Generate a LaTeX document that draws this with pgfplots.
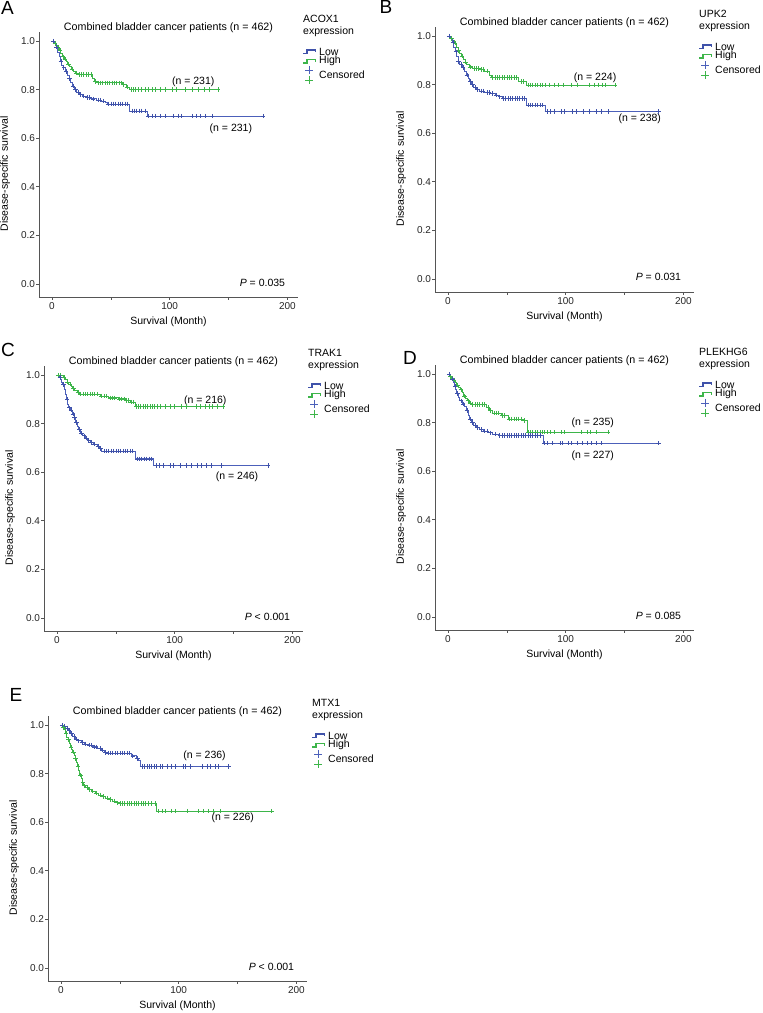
\documentclass[border=0pt]{standalone}
\usepackage{fontspec}
\setmainfont{Liberation Sans}
\usepackage{pgfplots}
\pgfplotsset{compat=1.18}
\definecolor{kmblue}{HTML}{3F52AA}
\definecolor{kmbluel}{HTML}{4C60BA}
\definecolor{kmgreen}{HTML}{3DB54A}
\definecolor{axgray}{HTML}{555555}

\pgfplotsset{
  km/.style={
    scale only axis, width=259pt, height=265pt,
    xmin=-11, xmax=209, ymin=-0.054, ymax=1.037,
    axis x line*=bottom, axis y line*=left,
    axis line style={axgray, line width=0.7pt},
    tick style={axgray, line width=0.6pt},
    tick align=outside, major tick length=2.8pt,
    xtick={0,50,100,150,200}, xticklabels={0,,100,,200},
    ytick={0,0.2,0.4,0.6,0.8,1.0}, yticklabels={0.0,0.2,0.4,0.6,0.8,1.0},
    font=\fontsize{10.5}{12}\selectfont,
    tick label style={font=\fontsize{10}{12}\selectfont, text=black!85},
    yticklabel style={inner xsep=1pt},
    xticklabel style={inner ysep=2.5pt},
    xlabel={Survival (Month)}, ylabel={Disease-specific survival},
    x label style={at={(axis description cs:0.5,0)}, anchor=center, yshift=-25pt},
    y label style={at={(axis description cs:-0.131,0.465)}, anchor=center},
    clip=false,
  },
  kmline/.style={const plot, #1, line width=0.75pt},
  kmcens/.style={only marks, mark=+, #1, mark size=2.2pt, mark options={line width=0.55pt}},
}

% panel title, centred a few points above the top of the axis box
\newcommand\kmtitle{\node[font=\fontsize{10.7}{12}\selectfont] at (axis cs:99,1.053)
  {Combined bladder cancer patients (n = 462)};}
\newcommand\kmstep{-- ++(3.8pt,0) -- ++(0,3.5pt) -- ++(8.5pt,0) -- ++(0,-2.5pt)}
\newcommand\kmlegend[2]{%
  \node[anchor=west, inner sep=0pt] at ([xshift=5pt,yshift=13.5pt]#1.north east) {#2};
  \node[anchor=west, inner sep=0pt] at ([xshift=5pt,yshift=0pt]#1.north east) {expression};
  \draw[kmblue, line width=1.4pt] ([xshift=5pt,yshift=-21.5pt]#1.north east) \kmstep;
  \node[anchor=west, inner sep=0pt] at ([xshift=21pt,yshift=-19.5pt]#1.north east) {Low};
  \draw[kmgreen, line width=1.4pt] ([xshift=5pt,yshift=-31pt]#1.north east) \kmstep;
  \node[anchor=west, inner sep=0pt] at ([xshift=21pt,yshift=-29pt]#1.north east) {High};
  \draw[kmbluel, line width=0.8pt] ([xshift=7pt,yshift=-38pt]#1.north east) -- ++(8pt,0)
    ([xshift=11pt,yshift=-34pt]#1.north east) -- ++(0,-8pt);
  \draw[kmgreen, line width=0.8pt] ([xshift=7pt,yshift=-48pt]#1.north east) -- ++(8pt,0)
    ([xshift=11pt,yshift=-44pt]#1.north east) -- ++(0,-8pt);
  \node[anchor=west, inner sep=0pt] at ([xshift=21pt,yshift=-42.5pt]#1.north east) {Censored};
}

\begin{document}
\begin{tikzpicture}[font=\fontsize{10.5}{12}\selectfont]
\useasboundingbox (0,0) rectangle (763pt,1013pt);

% ---------------- A: ACOX1
\begin{axis}[km, name=A, at={(39pt,716pt)}, anchor=south west]
  \addplot[kmline=kmgreen] coordinates {
    (0,1.0) (1.5,0.991) (3,0.982) (4.5,0.973) (6,0.96) (7.5,0.947) (9,0.935)
    (10.5,0.925) (12,0.915) (13.5,0.905) (15,0.895) (16.5,0.885) (18,0.875)
    (20,0.867) (22,0.862) (34,0.848) (36,0.833) (38,0.828) (60,0.82) (63,0.81)
    (66,0.80) (141.3,0.80)};
  \addplot[kmcens=kmgreen] coordinates {
    (2.5,0.991) (5,0.973) (7,0.96) (9.5,0.935) (11,0.925) (14,0.905) (17,0.885)
    (21,0.867) (23,0.862) (25,0.862) (27,0.862) (29,0.862) (31,0.862) (33,0.862)
    (37,0.833) (39,0.828) (41,0.828) (43,0.828) (45,0.828) (47,0.828) (49,0.828)
    (51,0.828) (53,0.828) (55,0.828) (57,0.828) (59,0.828) (61,0.82) (64,0.81)
    (67,0.8) (69,0.8) (71,0.8) (73,0.8) (76,0.8) (79,0.8) (82,0.8) (85,0.8)
    (88,0.8) (92,0.8) (96,0.8) (102,0.8) (106,0.8) (113,0.8) (119,0.8) (124,0.8)
    (129,0.8) (134,0.8) (141.3,0.8)};
  \addplot[kmline=kmbluel] coordinates {
    (0,1.0) (2,0.99) (3.5,0.975) (5,0.955) (6,0.935) (7,0.915) (8,0.9) (9.5,0.89)
    (11,0.875) (13,0.86) (14.5,0.845) (16,0.83) (17.5,0.815) (19,0.80) (21,0.79)
    (23,0.78) (25.5,0.773) (29,0.767) (33,0.762) (38,0.757) (42,0.752) (45,0.746)
    (47,0.741) (66,0.712) (81,0.691) (179.5,0.691)};
  \addplot[kmcens=kmblue] coordinates {
    (1,1.0) (4,0.975) (7.5,0.915) (10,0.89) (12,0.875) (15,0.845) (18,0.815)
    (20,0.8) (22,0.79) (24,0.78) (27,0.773) (30,0.767) (32,0.767) (35,0.762)
    (39,0.757) (41,0.757) (44,0.752) (48,0.741) (50,0.741) (52,0.741) (54,0.741)
    (56,0.741) (58,0.741) (60,0.741) (62,0.741) (64,0.741) (68,0.712) (70,0.712)
    (72,0.712) (74,0.712) (76,0.712) (79,0.712) (82,0.691) (85,0.691) (88,0.691)
    (92,0.691) (96,0.691) (103,0.691) (107,0.691) (110,0.691) (119,0.691)
    (123,0.691) (126,0.691) (130,0.691) (136,0.691) (179.5,0.691)};
  \kmtitle
  \node at (axis cs:120,0.831) {(n = 231)};
  \node at (axis cs:152,0.638) {(n = 231)};
  \node[anchor=east] at (axis cs:201,0.005) {\textit{P} = 0.035};
\end{axis}

% ---------------- B: UPK2
\begin{axis}[km, name=B, at={(435pt,721pt)}, anchor=south west]
  \addplot[kmline=kmgreen] coordinates {
    (0,1.0) (2,0.99) (4,0.98) (5.5,0.97) (7,0.955) (8.5,0.94) (10,0.93)
    (11.5,0.918) (13,0.905) (14.5,0.893) (16,0.883) (18,0.873) (21,0.866)
    (27,0.862) (31,0.855) (35,0.838) (37,0.829) (60,0.812) (66.3,0.798)
    (141.9,0.798)};
  \addplot[kmcens=kmgreen] coordinates {
    (3,0.99) (6,0.97) (9,0.94) (12,0.918) (15,0.893) (19,0.873) (22,0.866)
    (24,0.866) (26,0.866) (28,0.862) (30,0.862) (33,0.855) (38,0.829) (40,0.829)
    (42,0.829) (44,0.829) (46,0.829) (48,0.829) (50,0.829) (52,0.829) (54,0.829)
    (56,0.829) (58,0.829) (62,0.812) (64,0.812) (68,0.798) (70,0.798) (72,0.798)
    (74,0.798) (76,0.798) (78,0.798) (80,0.798) (83,0.798) (86,0.798) (90,0.798)
    (94,0.798) (98,0.798) (105,0.798) (110,0.798) (120,0.798) (124,0.798)
    (128,0.798) (131,0.798) (134,0.798) (141.9,0.798)};
  \addplot[kmline=kmbluel] coordinates {
    (0,1.0) (2,0.99) (4,0.975) (5,0.955) (6.5,0.935) (7.5,0.915) (8.5,0.895)
    (10,0.882) (12,0.87) (14,0.855) (15.5,0.84) (17,0.825) (18.5,0.812) (20,0.80)
    (22,0.79) (24,0.78) (27,0.773) (31,0.768) (36,0.763) (40,0.757) (43,0.75)
    (46,0.743) (67,0.716) (82.4,0.689) (178.7,0.689)};
  \addplot[kmcens=kmblue] coordinates {
    (1,1.0) (4.5,0.975) (7,0.935) (9,0.895) (11,0.882) (13,0.87) (16,0.84)
    (19,0.812) (21,0.8) (23,0.79) (25,0.78) (28,0.773) (30,0.773) (33,0.768)
    (35,0.768) (38,0.763) (41,0.757) (44,0.75) (47,0.743) (49,0.743) (51,0.743)
    (53,0.743) (55,0.743) (57,0.743) (59,0.743) (61,0.743) (63,0.743) (65,0.743)
    (68,0.716) (70,0.716) (72,0.716) (74,0.716) (76,0.716) (78,0.716) (80,0.716)
    (84,0.689) (87,0.689) (90,0.689) (96,0.689) (99,0.689) (106,0.689)
    (109,0.689) (115,0.689) (120,0.689) (126,0.689) (130,0.689) (136,0.689)
    (178.7,0.689)};
  \kmtitle
  \node at (axis cs:125,0.827) {(n = 224)};
  \node at (axis cs:163,0.66) {(n = 238)};
  \node[anchor=east] at (axis cs:201,0.008) {\textit{P} = 0.031};
\end{axis}

% ---------------- C: TRAK1
\begin{axis}[km, name=C, at={(44pt,382pt)}, anchor=south west]
  \addplot[kmline=kmgreen] coordinates {
    (0,1.0) (5.5,0.99) (7,0.98) (8.5,0.97) (10,0.962) (12,0.953) (13.5,0.945)
    (15,0.937) (17,0.93) (19,0.921) (37,0.913) (44,0.906) (52,0.902) (58,0.895)
    (62,0.888) (66.5,0.871) (141.3,0.871)};
  \addplot[kmcens=kmgreen] coordinates {
    (1,1.0) (3,1.0) (6,0.99) (9,0.97) (11,0.962) (14,0.945) (18,0.93) (20,0.921)
    (22,0.921) (24,0.921) (26,0.921) (28,0.921) (30,0.921) (32,0.921) (34,0.921)
    (38,0.913) (40,0.913) (42,0.913) (45,0.906) (47,0.906) (49,0.906) (53,0.902)
    (55,0.902) (57,0.902) (59,0.895) (61,0.895) (63,0.888) (65,0.888) (67.5,0.871)
    (69,0.871) (71,0.871) (73,0.871) (75,0.871) (77,0.871) (79,0.871) (81,0.871)
    (83,0.871) (85,0.871) (88,0.871) (92,0.871) (96,0.871) (100,0.871)
    (106,0.871) (110,0.871) (118,0.871) (122,0.871) (126,0.871) (129,0.871)
    (132,0.871) (136,0.871) (141.3,0.871)};
  \addplot[kmline=kmbluel] coordinates {
    (0,1.0) (2,0.99) (3,0.98) (4,0.97) (5,0.96) (6,0.94) (7,0.92) (8,0.9)
    (9,0.88) (10,0.865) (11.5,0.855) (13,0.84) (14.5,0.825) (16,0.805) (17,0.79)
    (18,0.775) (20,0.76) (22,0.75) (24,0.74) (26,0.73) (28,0.722) (31,0.715)
    (34,0.708) (36,0.697) (38,0.687) (66.5,0.655) (82,0.628) (179.5,0.628)};
  \addplot[kmcens=kmblue] coordinates {
    (2.5,0.99) (5.5,0.96) (8.5,0.9) (10.5,0.865) (12,0.855) (13.5,0.84)
    (15,0.825) (16.5,0.805) (19,0.775) (21,0.76) (23,0.75) (25,0.74) (27,0.73)
    (29,0.722) (32,0.715) (35,0.708) (37,0.697) (40,0.687) (42,0.687) (44,0.687)
    (46,0.687) (48,0.687) (50,0.687) (52,0.687) (54,0.687) (56,0.687) (58,0.687)
    (60,0.687) (62,0.687) (64,0.687) (68,0.655) (70,0.655) (72,0.655) (74,0.655)
    (76,0.655) (78,0.655) (80,0.655) (84,0.628) (87,0.628) (90,0.628) (96,0.628)
    (99,0.628) (105,0.628) (110,0.628) (114,0.628) (119,0.628) (123,0.628)
    (127,0.628) (131,0.628) (140,0.628) (179.5,0.628)};
  \kmtitle
  \node at (axis cs:126,0.893) {(n = 216)};
  \node at (axis cs:153,0.58) {(n = 246)};
  \node[anchor=east] at (axis cs:201,0.005) {\textit{P} < 0.001};
\end{axis}

% ---------------- D: PLEKHG6
\begin{axis}[km, name=D, at={(435pt,383pt)}, anchor=south west]
  \addplot[kmline=kmgreen] coordinates {
    (0,1.0) (1.5,0.99) (3,0.982) (4.5,0.975) (6,0.967) (7.5,0.955) (9,0.945)
    (10.5,0.935) (12,0.923) (13.5,0.91) (15,0.9) (16.5,0.89) (18,0.88)
    (20,0.875) (33,0.862) (35,0.85) (38,0.839) (45,0.829) (51,0.815) (64,0.809)
    (67.5,0.76) (136.2,0.76)};
  \addplot[kmcens=kmgreen] coordinates {
    (2,0.99) (5,0.975) (8,0.955) (11,0.935) (14,0.91) (17,0.89) (19,0.88)
    (21,0.875) (23,0.875) (25,0.875) (27,0.875) (29,0.875) (31,0.875) (34,0.862)
    (36,0.85) (39,0.839) (41,0.839) (43,0.839) (46,0.829) (48,0.829) (52,0.815)
    (54,0.815) (56,0.815) (58,0.815) (60,0.815) (62,0.815) (65,0.809) (68,0.76)
    (70,0.76) (72,0.76) (74,0.76) (76,0.76) (78,0.76) (80,0.76) (82,0.76)
    (84,0.76) (87,0.76) (90,0.76) (96,0.76) (99,0.76) (113,0.76) (118,0.76)
    (121,0.76) (126,0.76) (136.2,0.76)};
  \addplot[kmline=kmbluel] coordinates {
    (0,1.0) (2,0.99) (3.5,0.98) (4.5,0.965) (5.5,0.95) (6.5,0.935) (7.5,0.92)
    (9,0.905) (10,0.89) (12,0.877) (14,0.865) (15.5,0.85) (17,0.83) (18.5,0.815)
    (20,0.8) (22,0.79) (24,0.78) (27,0.772) (30,0.765) (34,0.758) (38,0.752)
    (43,0.746) (81,0.715) (178.7,0.715)};
  \addplot[kmcens=kmblue] coordinates {
    (1,1.0) (4,0.98) (6,0.95) (8,0.92) (11,0.89) (13,0.877) (16,0.85) (19,0.815)
    (21,0.8) (23,0.79) (25,0.78) (28,0.772) (31,0.765) (33,0.765) (36,0.758)
    (40,0.752) (44,0.746) (46,0.746) (48,0.746) (50,0.746) (52,0.746) (54,0.746)
    (56,0.746) (58,0.746) (60,0.746) (62,0.746) (64,0.746) (66,0.746) (68,0.746)
    (70,0.746) (72,0.746) (74,0.746) (76,0.746) (78,0.746) (82,0.715) (84,0.715)
    (89,0.715) (95,0.715) (97,0.715) (102,0.715) (105,0.715) (110,0.715)
    (114,0.715) (118,0.715) (122,0.715) (126,0.715) (130,0.715) (178.7,0.715)};
  \kmtitle
  \node at (axis cs:123,0.798) {(n = 235)};
  \node at (axis cs:123,0.663) {(n = 227)};
  \node[anchor=east] at (axis cs:201,0.005) {\textit{P} = 0.085};
\end{axis}

% ---------------- E: MTX1
\begin{axis}[km, name=E, at={(48pt,32pt)}, anchor=south west]
  \addplot[kmline=kmbluel] coordinates {
    (0,1.0) (2,0.995) (4,0.988) (6,0.978) (8,0.965) (10,0.952) (12,0.942)
    (14,0.935) (17,0.928) (20,0.922) (23,0.917) (27,0.91) (31,0.904) (34,0.897)
    (37,0.887) (39,0.884) (60,0.873) (64,0.862) (66,0.853) (67.7,0.829)
    (142.2,0.829)};
  \addplot[kmcens=kmblue] coordinates {
    (1,1.0) (3,0.995) (5,0.988) (7,0.978) (9,0.965) (11,0.952) (13,0.942)
    (15,0.935) (18,0.928) (21,0.922) (24,0.917) (26,0.917) (28,0.91) (30,0.91)
    (33,0.904) (35,0.897) (38,0.887) (40,0.884) (42,0.884) (44,0.884) (46,0.884)
    (48,0.884) (50,0.884) (52,0.884) (54,0.884) (56,0.884) (58,0.884) (61,0.873)
    (65,0.862) (69,0.829) (71,0.829) (73,0.829) (75,0.829) (77,0.829) (79,0.829)
    (81,0.829) (84,0.829) (86,0.829) (90,0.829) (94,0.829) (97,0.829)
    (104,0.829) (106,0.829) (110,0.829) (120,0.829) (124,0.829) (127,0.829)
    (131,0.829) (134,0.829) (142.2,0.829)};
  \addplot[kmline=kmgreen] coordinates {
    (0,1.0) (1.5,0.99) (3,0.98) (4,0.965) (5,0.95) (6,0.94) (7,0.925) (8,0.91)
    (9,0.9) (10,0.888) (11,0.875) (12,0.862) (13,0.848) (14,0.83) (15,0.812)
    (16,0.795) (17,0.78) (18,0.763) (19,0.75) (21,0.742) (23,0.735) (26,0.727)
    (29,0.719) (32,0.712) (35,0.705) (38,0.699) (41,0.693) (44,0.687) (47,0.68)
    (49,0.676) (81.3,0.646) (179,0.646)};
  \addplot[kmcens=kmgreen] coordinates {
    (2,0.99) (4.5,0.965) (6.5,0.94) (8.5,0.91) (10.5,0.888) (12.5,0.862)
    (14.5,0.83) (16.5,0.795) (18.5,0.763) (20,0.75) (22,0.742) (24,0.735)
    (27,0.727) (30,0.719) (33,0.712) (36,0.705) (39,0.699) (42,0.693) (45,0.687)
    (48,0.68) (50,0.676) (52,0.676) (54,0.676) (56,0.676) (58,0.676) (60,0.676)
    (62,0.676) (64,0.676) (66,0.676) (68,0.676) (70,0.676) (72,0.676) (74,0.676)
    (77,0.676) (80,0.676) (83,0.646) (86,0.646) (89,0.646) (94,0.646) (97,0.646)
    (107,0.646) (117,0.646) (121,0.646) (125,0.646) (129,0.646) (135,0.646)
    (179,0.646)};
  \kmtitle
  \node at (axis cs:122,0.872) {(n = 236)};
  \node at (axis cs:146,0.616) {(n = 226)};
  \node[anchor=east] at (axis cs:201,0.005) {\textit{P} < 0.001};
\end{axis}

\kmlegend{A}{ACOX1}
\kmlegend{B}{UPK2}
\kmlegend{C}{TRAK1}
\kmlegend{D}{PLEKHG6}
\kmlegend{E}{MTX1}

\node[font=\fontsize{19}{20}\selectfont] at (7.5pt,1005pt) {A};
\node[font=\fontsize{19}{20}\selectfont] at (386pt,1006pt) {B};
\node[font=\fontsize{19}{20}\selectfont] at (8pt,663pt) {C};
\node[font=\fontsize{19}{20}\selectfont] at (410pt,655pt) {D};
\node[font=\fontsize{19}{20}\selectfont] at (16pt,318pt) {E};
\end{tikzpicture}
\end{document}
